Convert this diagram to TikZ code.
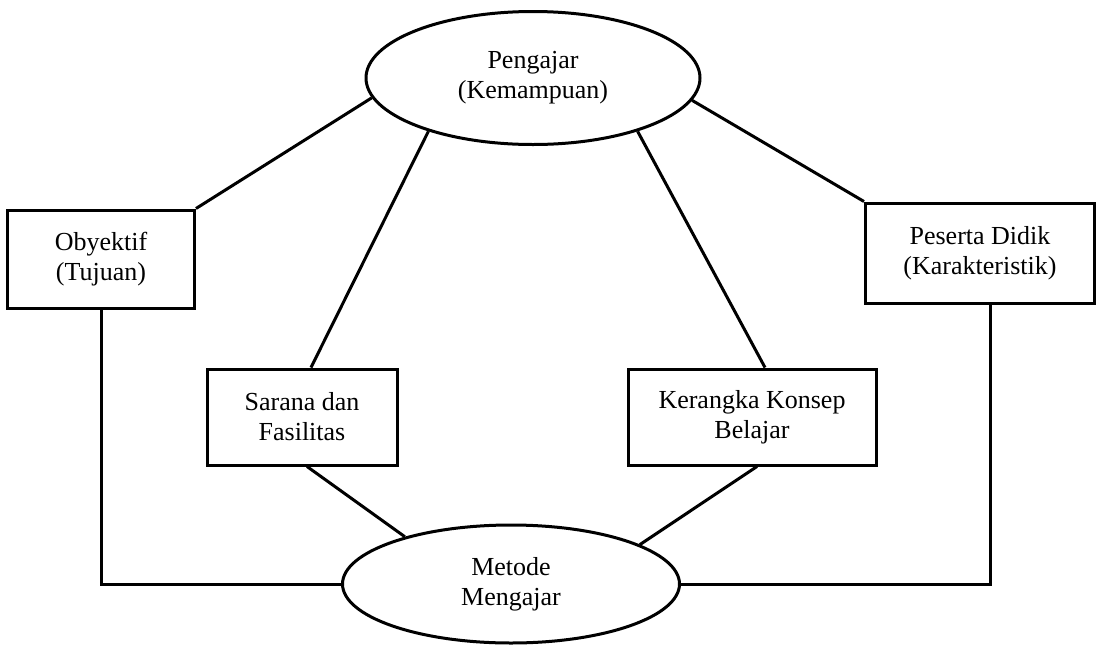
\documentclass[tikz,border=0pt]{standalone}
\usepackage{fontspec}
\setmainfont{Liberation Serif}
\usetikzlibrary{shapes.geometric}

\begin{document}
\begin{tikzpicture}[x=1pt, y=-1pt, line width=3pt,
  every node/.style = {align=center, inner sep=0pt,
    font=\fontsize{26}{30}\selectfont},
  oval/.style = {ellipse, draw, minimum width=334, minimum height=133},
  kotak/.style = {rectangle, draw, minimum width=190, minimum height=96}]
    \useasboundingbox (0,0) rectangle (1096,646);
    \node[oval] (pengajar) at (533,78) {Pengajar \\ (Kemampuan)};
    \node[oval, minimum width=337, minimum height=118] (metode) at (511,584) {Metode \\ Mengajar};
    \node[kotak, minimum width=187, minimum height=98] (obyektif) at (101,259) {Obyektif \\ (Tujuan)};
    \node[kotak, minimum width=229, minimum height=100] (peserta) at (980,253) {Peserta Didik \\ (Karakteristik)};
    \node[kotak] (sarana) at (302,417) {Sarana dan \\ Fasilitas};
    \node[kotak, minimum width=248] (kerangka) at (752,417) {Kerangka Konsep \\ Belajar};
    % garis
    \draw (obyektif.north east) -- (pengajar.187);
    \draw (peserta.north west) -- (pengajar.352);
    \draw (pengajar.207) -- ([xshift=9pt]sarana.north);
    \draw (pengajar.333) -- ([xshift=13pt]kerangka.north);
    \draw ([xshift=5pt]sarana.south) -- (metode.156);
    \draw ([xshift=5pt]kerangka.south) -- (metode.17);
    \draw (obyektif.south) |- (metode.west);
    \draw ([xshift=10pt]peserta.south) |- (metode.east);
\end{tikzpicture}
\end{document}
